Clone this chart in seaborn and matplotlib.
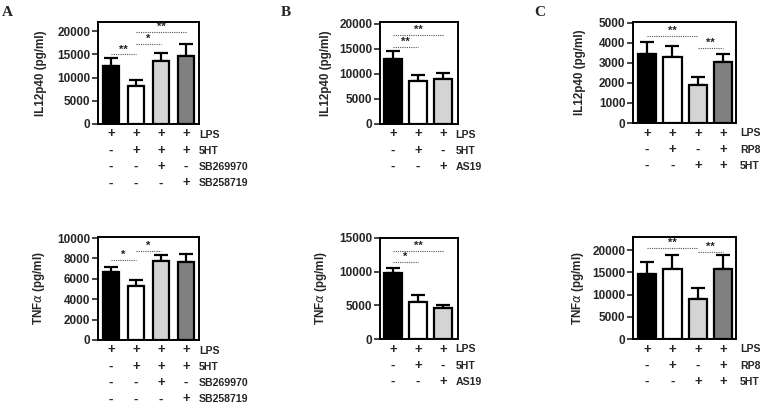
import numpy as np
import pandas as pd
import matplotlib
matplotlib.use("Agg")
import matplotlib.pyplot as plt
import matplotlib.transforms as mtransforms
from matplotlib.ticker import MultipleLocator
import seaborn as sns

sns.set_style("ticks")
plt.rcParams['font.family'] = ['Liberation Sans', 'DejaVu Sans']
plt.rcParams['mathtext.fontset'] = 'dejavusans'

# ---------------- data ----------------
# Panel A
a_conditions = ["LPS", "5HT", "SB269970", "SB258719"]
a_signs = [["+", "+", "+", "+"],
           ["-", "+", "+", "+"],
           ["-", "-", "+", "-"],
           ["-", "-", "-", "+"]]
a_il12_mean = [12500, 8200, 13500, 14700]
a_il12_sem = [1800, 1250, 1850, 2450]
a_tnf_mean = [6700, 5300, 7700, 7600]
a_tnf_sem = [450, 600, 600, 830]
a_il12_sig = [(0, 1, 15000, "**"), (1, 2, 17200, "*"), (1, 3, 19900, "**")]
a_tnf_sig = [(0, 1, 7840, "*"), (1, 2, 8720, "*")]

# Panel B
b_conditions = ["LPS", "5HT", "AS19"]
b_signs = [["+", "+", "+"],
           ["-", "+", "-"],
           ["-", "-", "+"]]
b_il12_mean = [12850, 8540, 8870]
b_il12_sem = [1720, 1260, 1200]
b_tnf_mean = [9850, 5500, 4650]
b_tnf_sem = [690, 1090, 400]
b_il12_sig = [(0, 1, 15360, "**"), (0, 2, 17680, "**")]
b_tnf_sig = [(0, 1, 11390, "*"), (0, 2, 13020, "**")]

# Panel C
c_conditions = ["LPS", "RP8", "5HT"]
c_signs = [["+", "+", "+", "+"],
           ["-", "+", "-", "+"],
           ["-", "-", "+", "+"]]
c_il12_mean = [3420, 3270, 1900, 3050]
c_il12_sem = [590, 540, 380, 380]
c_tnf_mean = [14550, 15850, 9050, 15700]
c_tnf_sem = [2850, 3050, 2350, 3300]
c_il12_sig = [(0, 2, 4340, "**"), (2, 3, 3750, "**")]
c_tnf_sig = [(0, 2, 20590, "**"), (2, 3, 19700, "**")]

colors4 = ["#000000", "#ffffff", "#d4d4d4", "#808080"]

W, H = 760, 404
fig = plt.figure(figsize=(W / 100, H / 100), dpi=100)


def make_axes(left, right, top, bottom):
    return fig.add_axes([left / W, (H - bottom) / H, (right - left) / W, (bottom - top) / H])


def panel(ax, means, sems, colors, width, xlim, ylim, step, ylabel, label_x,
          sigs, conds, signs, text_x, row_dy):
    n = len(means)
    df = pd.DataFrame({"g": [f"g{i}" for i in range(n)], "v": means})
    sns.barplot(data=df, x="g", y="v", hue="g", palette=colors[:n], legend=False,
                ax=ax, edgecolor="black", linewidth=1.6, width=width, errorbar=None,
                zorder=3)
    ax.errorbar(np.arange(n), means, yerr=[np.zeros(n), sems], fmt="none",
                ecolor="black", elinewidth=1.6, capsize=4.8, capthick=1.6, zorder=2)
    ax.set_xlim(*xlim)
    ax.set_ylim(*ylim)
    ax.yaxis.set_major_locator(MultipleLocator(step))
    ax.set_xticks([])
    ax.set_xlabel("")
    ax.set_ylabel(ylabel, fontsize=8.4, fontweight="bold")
    ax.yaxis.set_label_coords(label_x, 0.5)
    for s in ax.spines.values():
        s.set_visible(True)
        s.set_linewidth(1.4)
        s.set_color("black")
    ax.tick_params(axis="y", length=4, width=1.2, labelsize=8.5, pad=1.5)
    for t in ax.get_yticklabels():
        t.set_fontweight("bold")
    # significance
    for i, j, y, stars in sigs:
        ax.plot([i, j], [y, y], color="#555555", lw=0.8, ls=(0, (1, 1)), zorder=4)
        ax.text((i + j) / 2, y, stars, ha="center", va="bottom", fontsize=8,
                fontweight="bold", color="#222222")
    # treatment rows
    for r, (cond, row) in enumerate(zip(conds, signs)):
        tr = mtransforms.offset_copy(ax.get_xaxis_transform(), fig=fig,
                                     y=-(row_dy[0] + row_dy[1] * r), units="dots")
        for k, s in enumerate(row):
            ax.text(k, 0, s, transform=tr, ha="center", va="center",
                    fontsize=9.5, fontweight="bold", clip_on=False)
        ax.text(text_x, 0, cond, transform=tr, ha="left", va="center",
                fontsize=7.6, fontweight="bold", clip_on=False)


tnf_label = r"TNF$\alpha$ (pg/ml)"
il_label = "IL12p40 (pg/ml)"
rows = (10.5, 16.3)

axA1 = make_axes(98, 199, 22, 124)
panel(axA1, a_il12_mean, a_il12_sem, colors4, 0.65, (-0.52, 3.52), (0, 22000), 5000,
      il_label, -0.505, a_il12_sig, a_conditions, a_signs, 3.52, rows)
axA2 = make_axes(98, 199, 237, 340)
panel(axA2, a_tnf_mean, a_tnf_sem, colors4, 0.65, (-0.52, 3.52), (0, 10100), 2000,
      tnf_label, -0.505, a_tnf_sig, a_conditions, a_signs, 3.52, rows)

axB1 = make_axes(380, 458, 22, 124)
panel(axB1, b_il12_mean, b_il12_sem, colors4, 0.7, (-0.52, 2.6), (0, 20300), 5000,
      il_label, -0.62, b_il12_sig, b_conditions, b_signs, 2.5, rows)
axB2 = make_axes(380, 458, 238, 339)
panel(axB2, b_tnf_mean, b_tnf_sem, colors4, 0.7, (-0.52, 2.6), (0, 15000), 5000,
      tnf_label, -0.66, b_tnf_sig, b_conditions, b_signs, 2.5, rows)

axC1 = make_axes(633, 736, 22, 123)
panel(axC1, c_il12_mean, c_il12_sem, colors4, 0.72, (-0.55, 3.5), (0, 5030), 1000,
      il_label, -0.456, c_il12_sig, c_conditions, c_signs, 3.66, rows)
axC2 = make_axes(633, 736, 237, 339)
panel(axC2, c_tnf_mean, c_tnf_sem, colors4, 0.72, (-0.55, 3.5), (0, 23000), 5000,
      tnf_label, -0.456, c_tnf_sig, c_conditions, c_signs, 3.66, rows)

for letter, x in [("A", 7), ("B", 286), ("C", 540)]:
    fig.text(x / W, 1 - 12 / H, letter, ha="center", va="center", fontsize=11,
             fontweight="bold", family=["Liberation Serif", "DejaVu Serif"])

fig.savefig("out.png", dpi=100)
